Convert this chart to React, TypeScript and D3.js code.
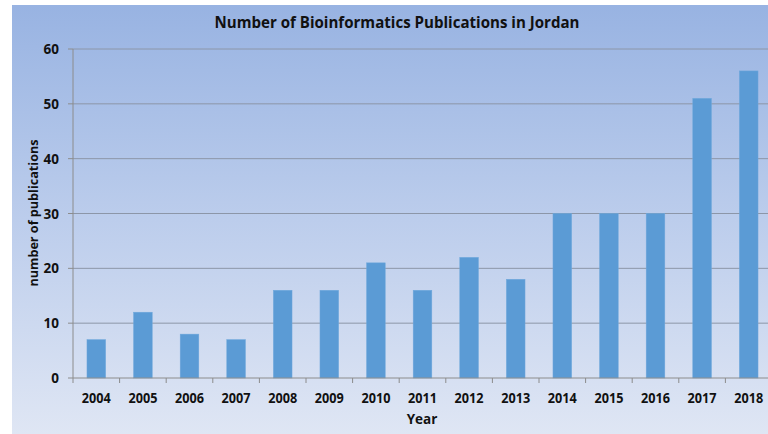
import React from "react";
import * as d3 from "d3";

const years = ["2004","2005","2006","2007","2008","2009","2010","2011","2012","2013","2014","2015","2016","2017","2018"];
const publications = [7,12,8,7,16,16,21,16,22,18,30,30,30,51,56];
const yTicks = [0,10,20,30,40,50,60];
const title = "Number of Bioinformatics Publications in Jordan";
const yTitle = "number of publications";
const xTitle = "Year";

export default function App() {
  const W = 768, H = 434;
  const x = d3.scaleBand<string>().domain(years).range([73, 772]).paddingInner(0.6).paddingOuter(0.3);
  const xb = d3.scaleBand<string>().domain(years).range([73, 772]);
  const y = d3.scaleLinear().domain([0, 60]).range([378, 49]);
  const font = "'Open Sans', 'DejaVu Sans', sans-serif";
  return (
    <svg width={W} height={H} style={{ position: "absolute", left: 0, top: 0 }} fontFamily={font}>
      <defs>
        <linearGradient id="bg" x1="0" y1="0" x2="0" y2="1">
          <stop offset="0" stopColor="#98B3E2" />
          <stop offset="0.5" stopColor="#BCCDEC" />
          <stop offset="1" stopColor="#DFE6F4" />
        </linearGradient>
      </defs>
      <rect x={0} y={0} width={W} height={H} fill="#ffffff" />
      <rect x={12} y={5} width={W - 12} height={H - 5} fill="url(#bg)" />
      <text x={397} y={28} textAnchor="middle" fontSize={16} fontWeight="bold" fill="#111"
        textLength={365} lengthAdjust="spacingAndGlyphs">{title}</text>
      {yTicks.filter(t => t > 0).map(t => (
        <line key={"g" + t} x1={73} x2={W} y1={y(t)} y2={y(t)} stroke="#8C96A8" strokeWidth={1} />
      ))}
      {yTicks.map(t => (
        <g key={"yt" + t}>
          <line x1={68} x2={73} y1={y(t)} y2={y(t)} stroke="#8C8C8C" />
          <text x={59} y={y(t) + 5} textAnchor="end" fontSize={13.5} fontWeight="bold" fill="#111">{t}</text>
        </g>
      ))}
      {years.map((yr, i) => (
        <rect key={yr} x={x(yr)} y={y(publications[i])} width={x.bandwidth()} height={y(0) - y(publications[i])}
          fill="#5B9BD5" stroke="#6FA8DC" strokeWidth={0.5} />
      ))}
      <line x1={73} x2={73} y1={49} y2={378} stroke="#8C8C8C" />
      <line x1={73} x2={W} y1={378} y2={378} stroke="#8C8C8C" />
      {years.map(yr => (
        <line key={"xt" + yr} x1={xb(yr)} x2={xb(yr)} y1={378} y2={383} stroke="#8C8C8C" />
      ))}
      <line x1={772} x2={772} y1={378} y2={383} stroke="#8C8C8C" />
      {years.map(yr => (
        <text key={"xl" + yr} x={(xb(yr) as number) + xb.bandwidth() / 2} y={403} textAnchor="middle"
          fontSize={13.5} fontWeight="bold" fill="#111" textLength={29} lengthAdjust="spacingAndGlyphs">{yr}</text>
      ))}
      <text x={422} y={424} textAnchor="middle" fontSize={13.5} fontWeight="bold" fill="#111">{xTitle}</text>
      <text transform="translate(38,213) rotate(-90)" textAnchor="middle" fontSize={12.5} fontWeight="bold" fill="#111"
        textLength={147} lengthAdjust="spacingAndGlyphs">{yTitle}</text>
    </svg>
  );
}
